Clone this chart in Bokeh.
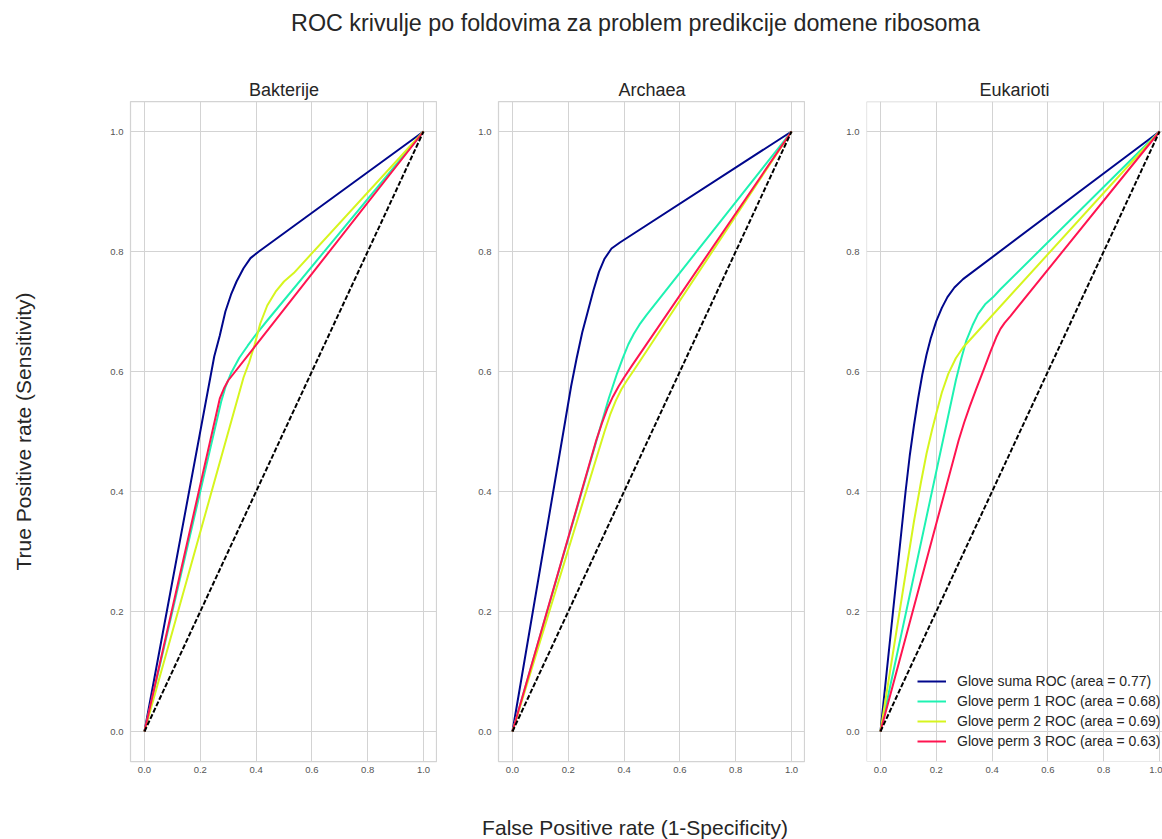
from bokeh.plotting import figure
from bokeh.layouts import column, row
from bokeh.models import (FixedTicker, PrintfTickFormatter, Legend, LegendItem,
                          Range1d, Span)
from bokeh.core.properties import value
from bokeh.embed import file_html
from bokeh.resources import INLINE

# ---------------- data ----------------
suptitle = "ROC krivulje po foldovima za problem predikcije domene ribosoma"
panel_titles = ["Bakterije", "Archaea", "Eukarioti"]
ylabel = "True Positive rate (Sensitivity)"
xlabel = "False Positive rate (1-Specificity)"
series_labels = ["Glove suma ROC (area = 0.77)", "Glove perm 1 ROC (area = 0.68)",
                 "Glove perm 2 ROC (area = 0.69)", "Glove perm 3 ROC (area = 0.63)"]
tick_values = [0.0, 0.2, 0.4, 0.6, 0.8, 1.0]
chance_fpr = [0.0, 1.0]
chance_tpr = [0.0, 1.0]

# Bakterije
bak_suma_fpr = [0.0, 0.25, 0.27, 0.29, 0.31, 0.33, 0.355, 0.38, 0.41, 1.0]
bak_suma_tpr = [0.0, 0.625, 0.66, 0.70, 0.728, 0.75, 0.772, 0.789, 0.80, 1.0]
bak_p1_fpr = [0.0, 0.275, 0.29, 0.31, 0.34, 0.37, 0.40, 0.44, 1.0]
bak_p1_tpr = [0.0, 0.55, 0.574, 0.597, 0.623, 0.643, 0.662, 0.685, 1.0]
bak_p2_fpr = [0.0, 0.355, 0.375, 0.395, 0.415, 0.44, 0.47, 0.50, 0.535, 1.0]
bak_p2_tpr = [0.0, 0.59, 0.615, 0.645, 0.68, 0.71, 0.733, 0.75, 0.764, 1.0]
bak_p3_fpr = [0.0, 0.27, 0.285, 0.30, 1.0]
bak_p3_tpr = [0.0, 0.555, 0.572, 0.585, 1.0]

# Archaea
arc_suma_fpr = [0.0, 0.19, 0.21, 0.23, 0.25, 0.27, 0.29, 0.31, 0.33, 0.355, 0.385, 1.0]
arc_suma_tpr = [0.0, 0.52, 0.575, 0.622, 0.665, 0.70, 0.735, 0.766, 0.788, 0.805, 0.815, 1.0]
arc_p1_fpr = [0.0, 0.315, 0.345, 0.375, 0.395, 0.415, 0.435, 0.455, 0.48, 1.0]
arc_p1_tpr = [0.0, 0.507, 0.555, 0.597, 0.622, 0.645, 0.663, 0.678, 0.694, 1.0]
arc_p2_fpr = [0.0, 0.33, 0.35, 0.37, 0.39, 0.41, 0.435, 1.0]
arc_p2_tpr = [0.0, 0.50, 0.528, 0.551, 0.57, 0.585, 0.602, 1.0]
arc_p3_fpr = [0.0, 0.30, 0.32, 0.34, 0.36, 0.38, 0.40, 0.43, 1.0]
arc_p3_tpr = [0.0, 0.485, 0.513, 0.538, 0.558, 0.575, 0.59, 0.611, 1.0]

# Eukarioti
euk_suma_fpr = [0.0, 0.09, 0.105, 0.12, 0.135, 0.15, 0.165, 0.18, 0.20, 0.22, 0.24, 0.265, 0.296, 1.0]
euk_suma_tpr = [0.0, 0.40, 0.46, 0.51, 0.555, 0.595, 0.628, 0.655, 0.684, 0.706, 0.724, 0.74, 0.754, 1.0]
euk_p1_fpr = [0.0, 0.27, 0.29, 0.308, 0.33, 0.35, 0.375, 0.404, 0.43, 1.0]
euk_p1_tpr = [0.0, 0.585, 0.622, 0.652, 0.677, 0.696, 0.712, 0.724, 0.737, 1.0]
euk_p2_fpr = [0.0, 0.12, 0.145, 0.165, 0.185, 0.20, 0.22, 0.243, 0.27, 0.296, 1.0]
euk_p2_tpr = [0.0, 0.35, 0.415, 0.463, 0.503, 0.53, 0.565, 0.596, 0.622, 0.64, 1.0]
euk_p3_fpr = [0.0, 0.28, 0.30, 0.32, 0.344, 0.37, 0.395, 0.415, 0.43, 0.445, 0.465, 1.0]
euk_p3_tpr = [0.0, 0.485, 0.515, 0.542, 0.572, 0.603, 0.634, 0.657, 0.671, 0.681, 0.692, 1.0]

colors = ["#00078c", "#1ef2b2", "#d6f51e", "#ff1450"]

FONT = "Liberation Sans"
TXT = "#262626"
GRID = "#d3d3d3"

panels_data = [
    [(bak_suma_fpr, bak_suma_tpr), (bak_p1_fpr, bak_p1_tpr), (bak_p2_fpr, bak_p2_tpr), (bak_p3_fpr, bak_p3_tpr)],
    [(arc_suma_fpr, arc_suma_tpr), (arc_p1_fpr, arc_p1_tpr), (arc_p2_fpr, arc_p2_tpr), (arc_p3_fpr, arc_p3_tpr)],
    [(euk_suma_fpr, euk_suma_tpr), (euk_p1_fpr, euk_p1_tpr), (euk_p2_fpr, euk_p2_tpr), (euk_p3_fpr, euk_p3_tpr)],
]

PX_PER_UNIT = 307 / 1.1


def make_panel(idx, left_border, frame_w):
    x_end = -0.05 + frame_w / PX_PER_UNIT
    p = figure(frame_width=frame_w, frame_height=660,
               x_range=Range1d(-0.05, x_end), y_range=Range1d(-0.05, 1.05),
               output_backend="svg", toolbar_location=None,
               min_border_left=left_border, min_border_right=0,
               min_border_top=46, min_border_bottom=35,
               background_fill_color="white", border_fill_color="white")
    p.title.text = panel_titles[idx]
    p.title.text_font = FONT
    p.title.text_font_size = "18px"
    p.title.text_font_style = "normal"
    p.title.text_color = TXT
    p.title.align = "center"
    p.title.standoff = 4

    ticker = FixedTicker(ticks=tick_values)
    for ax in (p.xaxis[0], p.yaxis[0]):
        ax.ticker = ticker
        ax.formatter = PrintfTickFormatter(format="%.1f")
        ax.axis_line_color = None
        ax.major_tick_line_color = None
        ax.minor_tick_line_color = None
        ax.major_tick_out = 0
        ax.major_tick_in = 0
        ax.major_label_text_font = FONT
        ax.major_label_text_font_size = "9.5px"
        ax.major_label_text_color = "#555555"
    p.xaxis[0].major_label_standoff = 5
    p.yaxis[0].major_label_standoff = 7
    p.xgrid.ticker = ticker
    p.ygrid.ticker = ticker
    p.grid.grid_line_color = GRID
    p.grid.grid_line_width = 1

    if idx == 0:
        p.yaxis[0].axis_label = ylabel
        p.yaxis[0].axis_label_text_font = FONT
        p.yaxis[0].axis_label_text_font_size = "21px"
        p.yaxis[0].axis_label_text_font_style = "normal"
        p.yaxis[0].axis_label_text_color = TXT
        p.yaxis[0].axis_label_standoff = 72

    if idx == 2:
        p.outline_line_color = None
        for loc, dim in ((-0.05, "height"), (-0.05, "width"), (1.05, "width")):
            p.add_layout(Span(location=loc, dimension=dim, line_color=GRID, line_width=1.25))
    else:
        p.outline_line_color = GRID
        p.outline_line_width = 1.25

    renderers = []
    for k, (fx, ty) in enumerate(panels_data[idx]):
        r = p.line(fx, ty, line_color=colors[k], line_width=2, line_join="round")
        renderers.append(r)
    p.line(chance_fpr, chance_tpr, line_color="black", line_width=2, line_dash="5 2")

    if idx == 2:
        legend = Legend(items=[LegendItem(label=series_labels[k], renderers=[renderers[k]])
                               for k in range(4)],
                        location=(51, 10), padding=0, margin=0, spacing=0,
                        glyph_width=29, glyph_height=20, label_height=20,
                        label_standoff=11, border_line_color=None,
                        background_fill_alpha=0,
                        label_text_font=FONT, label_text_font_size="14px",
                        label_text_color=TXT)
        p.add_layout(legend)
    return p


TOTAL_W = 1162
TOP_H = 55
ROW_H = 46 + 660 + 35
BOTTOM_H = 839 - TOP_H - ROW_H

f1 = make_panel(0, 130, 307)
f2 = make_panel(1, 61, 307)
f3 = make_panel(2, 61, TOTAL_W - 437 - 368 - 61)

top = figure(width=TOTAL_W, height=TOP_H, x_range=Range1d(0, TOTAL_W), y_range=Range1d(0, TOP_H),
             output_backend="svg", toolbar_location=None, min_border=0,
             x_axis_type=None, y_axis_type=None, outline_line_color=None)
top.grid.visible = False
top.text(x=[635], y=[TOP_H - 22.5], text=[suptitle], text_font=value(FONT),
         text_font_size=value("23.3px"), text_align="center",
         text_baseline="middle", text_color=TXT)

bottom = figure(width=TOTAL_W, height=BOTTOM_H, x_range=Range1d(0, TOTAL_W), y_range=Range1d(0, BOTTOM_H),
                output_backend="svg", toolbar_location=None, min_border=0,
                x_axis_type=None, y_axis_type=None, outline_line_color=None)
bottom.grid.visible = False
bottom.text(x=[634.5], y=[12], text=[xlabel], text_font=value(FONT),
            text_font_size=value("21px"), text_align="center",
            text_baseline="middle", text_color=TXT)

layout = column(top, row(f1, f2, f3, spacing=0), bottom, spacing=0)

open("out.html", "w").write(file_html(layout, INLINE))
